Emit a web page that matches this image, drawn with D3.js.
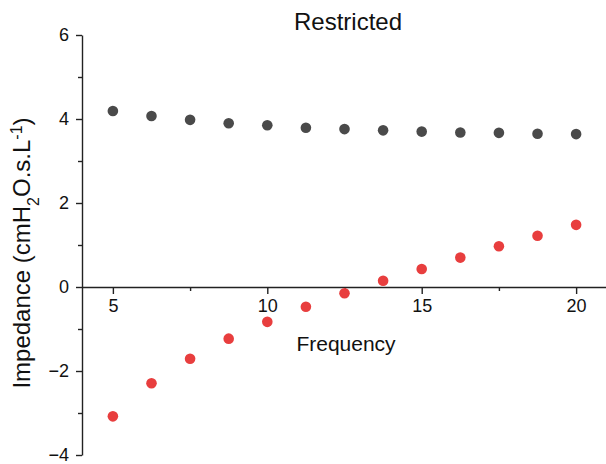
<!DOCTYPE html>
<meta charset="utf-8">
<script src="https://d3js.org/d3.v7.min.js"></script>
<style>
  body { margin: 0; background: #fff; }
  text { font-family: "Liberation Sans", Arial, sans-serif; fill: #111; }
  .axis path, .axis line { stroke: #222; stroke-width: 1.4; }
  .axis text { font-family: "Liberation Sans", Arial, sans-serif; font-size: 18px; fill: #111; }
</style>
<body>
<script>

// frequency points
var frequency = [5, 6.25, 7.5, 8.75, 10, 11.25, 12.5, 13.75, 15, 16.25, 17.5, 18.75, 20];
// upper series (dark grey)
var resistance = [4.19, 4.07, 3.98, 3.90, 3.85, 3.79, 3.76, 3.73, 3.70, 3.68, 3.67, 3.65, 3.64];
// lower series (red)
var reactance = [-3.08, -2.29, -1.71, -1.23, -0.83, -0.47, -0.15, 0.15, 0.43, 0.70, 0.97, 1.22, 1.48];

var xMajor = [5, 10, 15, 20];
var xMinor = [7.5, 12.5, 17.5];
var yMajor = [-4, -2, 0, 2, 4, 6];
var yMinor = [-3, -1, 1, 3, 5];

var width = 606, height = 464;

var svg = d3.select("body").append("svg")
    .attr("width", width)
    .attr("height", height);

var x = d3.scaleLinear().domain([4, 21]).range([82, 607]);
var y = d3.scaleLinear().domain([-4, 6]).range([455, 35]);

// y axis
svg.append("g")
    .attr("class", "axis")
    .attr("transform", "translate(" + x(4) + ",0)")
    .call(d3.axisLeft(y).tickValues(yMajor).tickSize(6).tickSizeOuter(0).tickPadding(7));

svg.append("g")
    .attr("class", "axis")
    .attr("transform", "translate(" + x(4) + ",0)")
    .call(d3.axisLeft(y).tickValues(yMinor).tickSize(4).tickSizeOuter(0).tickFormat(""))
    .call(function(g) { g.select(".domain").remove(); });

// x axis through zero
svg.append("g")
    .attr("class", "axis")
    .attr("transform", "translate(0," + y(0) + ")")
    .call(d3.axisBottom(x).tickValues(xMajor).tickSize(7).tickSizeOuter(0).tickPadding(5));

svg.append("g")
    .attr("class", "axis")
    .attr("transform", "translate(0," + y(0) + ")")
    .call(d3.axisBottom(x).tickValues(xMinor).tickSize(4).tickSizeOuter(0).tickFormat(""))
    .call(function(g) { g.select(".domain").remove(); });

// points
svg.append("g").selectAll("circle")
    .data(frequency)
    .enter().append("circle")
    .attr("cx", function(d) { return x(d); })
    .attr("cy", function(d, i) { return y(resistance[i]); })
    .attr("r", 5.3)
    .style("fill", "#4a4a4a");

svg.append("g").selectAll("circle")
    .data(frequency)
    .enter().append("circle")
    .attr("cx", function(d) { return x(d); })
    .attr("cy", function(d, i) { return y(reactance[i]); })
    .attr("r", 5.3)
    .style("fill", "#e83e3e");

// title
svg.append("text")
    .attr("x", 348)
    .attr("y", 30)
    .attr("text-anchor", "middle")
    .style("font-size", "24px")
    .text("Restricted");

// x label
svg.append("text")
    .attr("x", 346)
    .attr("y", 351)
    .attr("text-anchor", "middle")
    .style("font-size", "21px")
    .text("Frequency");

// y label
var yl = svg.append("text")
    .attr("transform", "translate(30,253) rotate(-90)")
    .attr("text-anchor", "middle")
    .style("font-size", "24px");
yl.append("tspan").text("Impedance (cmH");
yl.append("tspan").attr("baseline-shift", "sub").style("font-size", "16px").text("2");
yl.append("tspan").text("O.s.L");
yl.append("tspan").attr("baseline-shift", "super").style("font-size", "16px").text("-1");
yl.append("tspan").text(")");

</script>
</body>
